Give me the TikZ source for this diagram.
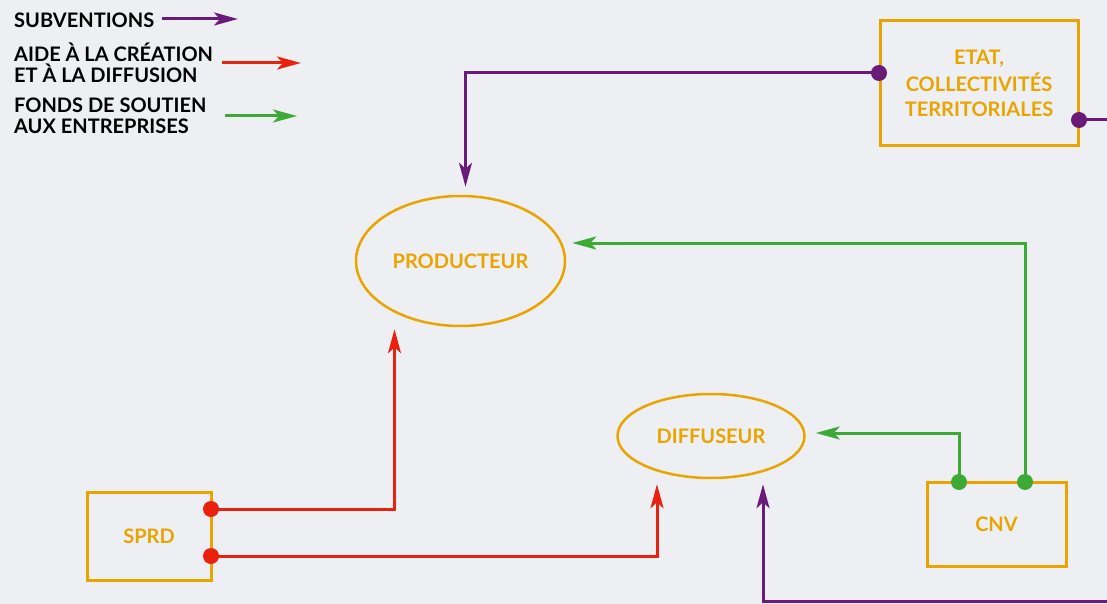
\documentclass[tikz,border=0pt]{standalone}
\usepackage{fontspec}
\setmainfont{Lato}
\usepackage{xcolor}
\usepackage{tikz}
\usetikzlibrary{positioning}
\usetikzlibrary{arrows.meta,shapes.geometric}
\definecolor{paper}{RGB}{237,239,243}
\definecolor{gold}{RGB}{234,164,0}
\definecolor{subv}{RGB}{106,27,122}
\definecolor{aide}{RGB}{232,34,15}
\definecolor{fonds}{RGB}{61,170,53}
\tikzset{edge/.style = {-{Stealth[length=24pt,width=13pt,inset=6pt]}, line width=3pt}}

\begin{document}
\begin{tikzpicture}[x=1pt,y=-1pt,font=\bfseries\fontsize{20}{21}\selectfont,
  main node/.style={ellipse,draw=gold,line width=2.5pt,text=gold,inner sep=0pt},
  box node/.style={rectangle,draw=gold,line width=3pt,text=gold,inner sep=0pt,align=center},
  leg node/.style={anchor=west,align=left,inner sep=0pt,text=black}]
\useasboundingbox[fill=paper] (0,0) rectangle (1107,604);

% legende
\node[leg node] (l1) at (14,20) {SUBVENTIONS};
\node[leg node] (l2) at (14,63) {AIDE À LA CRÉATION\\ET À LA DIFFUSION};
\node[leg node] (l3) at (14,116) {FONDS DE SOUTIEN\\AUX ENTREPRISES};
\coordinate (l1e) at (238,19);
\coordinate (l2e) at (301,63);
\coordinate (l3e) at (297,116);
\draw[edge,subv] ([xshift=8pt,yshift=1pt]l1.east) -- (l1e);
\draw[edge,aide] ([xshift=9pt]l2.east) -- (l2e);
\draw[edge,fonds] ([xshift=18pt]l3.east) -- (l3e);

% acteurs
\node[main node,minimum width=209pt,minimum height=130pt] (1) at (460.5,261) {PRODUCTEUR};
\node[main node,minimum width=187pt,minimum height=84pt] (2) at (711,436) {DIFFUSEUR};
\node[box node,minimum width=198pt,minimum height=125pt] (3) at (979,83.5) {ETAT,\\[4pt]COLLECTIVITÉS\\[4pt]TERRITORIALES};
\node[box node,minimum width=139pt,minimum height=84pt] (4) at (996.5,524) {CNV};
\node[box node,minimum width=124pt,minimum height=88pt] (5) at (149,536) {SPRD};

\coordinate (3a) at (879,73);
\coordinate (3b) at (1079,120);
\coordinate (4a) at (959,482);
\coordinate (4b) at (1025,482);
\coordinate (5a) at (211,509);
\coordinate (5b) at (211,556);
\coordinate (e1) at (1107,120);
\coordinate (e2) at (1107,601);

% subventions
\draw[edge,subv,shorten >=8pt] (3a) -| ([xshift=5pt]1.north);
\draw[line width=3pt,subv] (3b) -- (e1);
\draw[edge,subv,shorten >=5pt] (e2) -| ([xshift=52pt]2.south);
% aide a la creation
\draw[edge,aide,shorten >=2pt] (5a) -| ([xshift=-66pt]1.south);
\draw[edge,aide,shorten >=5pt] (5b) -| ([xshift=-54pt]2.south);
% fonds de soutien
\draw[edge,fonds,shorten >=6pt] (4b) |- ([yshift=18pt]1.east);
\draw[edge,fonds,shorten >=10pt] (4a) |- ([yshift=3pt]2.east);

\foreach \p in {3a,3b} \fill[subv] (\p) circle (8pt);
\foreach \p in {5a,5b} \fill[aide] (\p) circle (8pt);
\foreach \p in {4a,4b} \fill[fonds] (\p) circle (8pt);
\end{tikzpicture}
\end{document}
